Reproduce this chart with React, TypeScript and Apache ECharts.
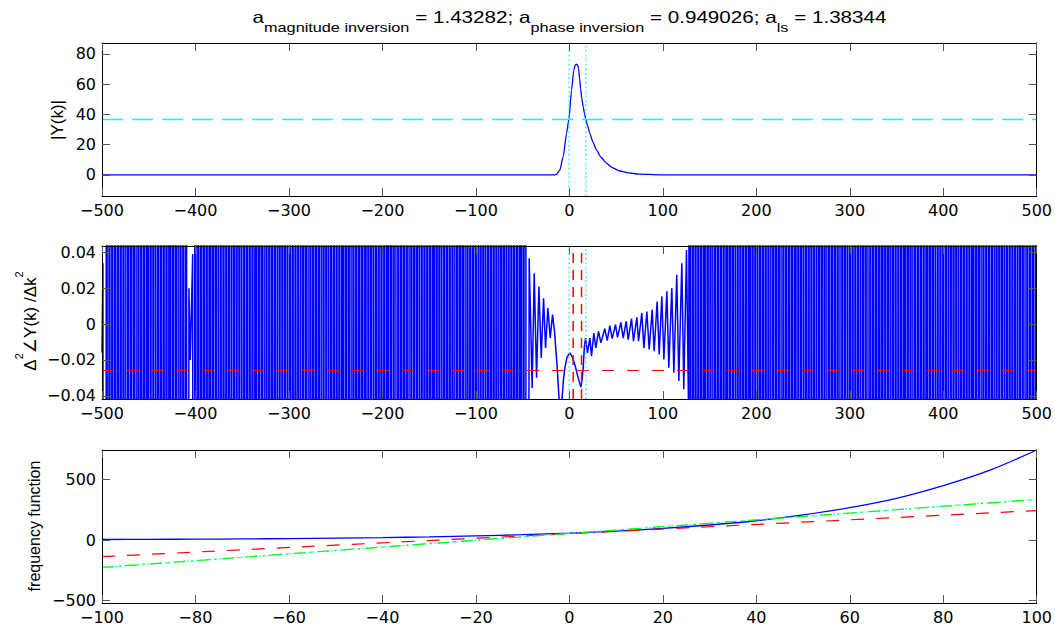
import React, { useEffect, useRef } from "react";
import * as echarts from "echarts";

// ---- |Y(k)| : vertices of the magnitude curve ----
const magK = [-500, -16, -13.7, -10.2, -6.6, -3, -0.5, 2.3, 4.8, 6.3, 7.7, 8.8, 9.8, 11, 12, 13.3, 14.8, 16.2, 17.6, 19.5, 21.9, 25, 29, 34, 39.8, 46, 54, 63, 75, 97, 500];
const magVal = [0, 0, 0.4, 3.3, 12, 27.5, 36.8, 56, 69.4, 72.6, 73.2, 72.4, 70.5, 63.5, 57, 50.5, 45, 40.5, 36.8, 32.3, 27.5, 22, 16.5, 11.5, 7.7, 4.8, 2.6, 1.3, 0.6, 0.1, 0];
const magHalf = 36.6;
const magHalfLeft = -0.3;
const magHalfRight = 17.6;
const magMin = -13.9;
const magMax = 87.1;

// ---- second difference of the phase ----
// U / D : sample far above / far below the plotted range
const phaseHigh = 1;
const phaseLow = -1;
const phaseEdge: [number, number][] = [[-500, -0.016], [-499, 0.034]];
const phaseLeftAStart = -498;
const phaseLeftA = [
  "DDDUDDUDDU", "DDUDDUDDUD", "DUDDUUDUUD", "UUDUUDDUDD", "UDDUDDUDUU",
  "DUUDUUDDUD", "DUDDUDDUDD", "UDUUDUUDUU", "DDUDDUDDUD",
].join("");
const phaseLeftAEnd = -412;
const phaseNotch: [number, number][] = [
  [-411, -1], [-410, 1], [-409, -1], [-408, -1], [-407, 0.02], [-405.5, -0.02],
  [-403, 0.039], [-401.5, -1], [-401, -1], [-400, 1], [-399, -1],
];
const phaseLeftBStart = -398;
const phaseLeftB = [
  "DUDDUDDUDD", "UDDUDUUDUU", "DUUDDUDDUD", "DUDDUDDUUD", "UUDUUDUUDD",
  "UDDUDDUDDU", "DDUDUUDUUD", "UUDDUDDUDD", "UDDUDDUUDU", "UDUUDUUDDU",
  "DDUDDUDDUD", "DUUDUUDUUD", "DUDDUDDUDD", "UDDUUDUUDU", "UDDUDDUDDU",
  "DDUDDUDUUD", "UUDUUDDUDD", "UDDUDDUDDU", "DUUDUUDUUD", "DUDDUDDUDD",
  "UDDUDUUDUU", "DUUDDUDDUD", "DUDDUDDUUD", "UUDUUDUUDD", "UDDUDDUDDU",
  "DDUDUUDUUD", "UUDDUDDUDD", "UDDUDDUUDU", "UDUUDUUDDU", "DDUDDUDDUD",
  "DUUDUUDUUD", "DUDDUDDUDD", "UDDUUDUUDU", "UDDUDDUDDU", "DDUDDUDUUD",
  "UUDUUDDUDD",
].join("");
const phaseLeftBEnd = -46;
const phaseCenter: [number, number][] = [
  [-43.0, 0.0367], [-39.8, -0.0356], [-37.6, 0.0283], [-35.1, -0.03], [-32.6, 0.0209],
  [-30.1, -0.0189], [-27.6, 0.0144], [-25.5, -0.0133], [-23.0, 0.0089], [-20.5, -0.0078],
  [-18.0, 0.0052], [-15.9, -0.0041], [-13.0, -0.0244], [-10.9, -0.0426], [-9.5, -0.05],
  [-8.0, -0.0426], [-6.3, -0.031], [-4.8, -0.0244], [-2.5, -0.0185], [0.5, -0.0161],
  [3.2, -0.0185], [5.9, -0.0226], [9.4, -0.03], [12.3, -0.0352], [13.6, -0.031],
  [14.8, -0.0244], [16.0, -0.013], [17.3, -0.0078], [19.4, -0.0161], [21.9, -0.0078],
  [23.7, -0.0179], [26.2, -0.005], [28.3, -0.0133], [31.2, -0.0041], [33.7, -0.0105],
  [37.9, -0.0026], [40.5, -0.0092], [43.3, -0.0009], [45.8, -0.0081], [49.4, -0.0003],
  [51.5, -0.0074], [55.1, 0.0009], [57.6, -0.0078], [60.8, 0.0015], [62.9, -0.0087],
  [66.5, 0.003], [68.6, -0.0096], [72.2, 0.0037], [74.0, -0.0096], [77.5, 0.0061],
  [79.7, -0.0133], [82.9, 0.007], [85.4, -0.0142], [88.6, 0.008], [90.7, -0.0152],
  [93.9, 0.0126], [96.1, -0.017], [98.9, 0.0154], [101.1, -0.0198], [104.3, 0.0182],
  [106.4, -0.0244], [109.6, 0.02], [111.8, -0.0272], [114.9, 0.0274], [117.1, -0.0318],
  [120.3, 0.0339], [122.4, -0.0364], [125.3, 0.0413], [127.8, -0.06],
];
const phaseRightStart = 129;
const phaseRight = [
  "UDDUDDUDDU", "DDUDDUDUUD", "UUDUUDDUDD", "UDDUDDUDDU", "DUUDUUDUUD",
  "DUDDUDDUDD", "UDDUDUUDUU", "DUUDDUDDUD", "DUDDUDDUUD", "UUDUUDUUDD",
  "UDDUDDUDDU", "DDUDUUDUUD", "UUDDUDDUDD", "UDDUDDUUDU", "UDUUDUUDDU",
  "DDUDDUDDUD", "DUUDUUDUUD", "DUDDUDDUDD", "UDDUUDUUDU", "UDDUDDUDDU",
  "DDUDDUDUUD", "UUDUUDDUDD", "UDDUDDUDDU", "DUUDUUDUUD", "DUDDUDDUDD",
  "UDDUDUUDUU", "DUUDDUDDUD", "DUDDUDDUUD", "UUDUUDUUDD", "UDDUDDUDDU",
  "DDUDUUDUUD", "UUDDUDDUDD", "UDDUDDUUDU", "UDUUDUUDDU", "DDUDDUDDUD",
  "DUUDUUDUUD", "DUDDUDDUDD", "UDDUUDUUDU",
].join("");
const phaseRightEnd = 500;
const phaseLevel = -0.0259;
const phaseMarkers = [4.1, 13.0];
const phaseMin = -0.0418;
const phaseMax = 0.0435;

// ---- frequency functions ----
const freqK = [-100, -90, -80, -70, -60, -50, -40, -30, -20, -10, 0, 10, 20, 30, 40, 50, 60, 70, 80, 90, 100];
const freqExact = [5, 6, 8, 10, 13, 17, 21, 27, 35, 45, 58, 75, 97, 125, 160, 208, 268, 345, 450, 578, 745];
const freqLinK = [-100, 100];
const freqLinA = [-137, 244];
const freqLinB = [-226, 336];
const freqMin = -520;
const freqMax = 745;

const magTicks = [0, 20, 40, 60, 80];
const phaseTicks = [-0.04, -0.02, 0, 0.02, 0.04];
const freqTicks = [-500, 0, 500];

function expand(pattern: string, start: number, end: number): [number, number][] {
  const out: [number, number][] = [];
  for (let i = 0; i < pattern.length; i++) {
    const k = start + i;
    if (k > end) break;
    out.push([k, pattern[i] === "U" ? phaseHigh : phaseLow]);
  }
  return out;
}

const zip = (xs: number[], ys: number[]) => xs.map((x, i) => [x, ys[i]]);

function buildOption(): any {
  const fmt = (v: number) => (v < 0 ? "\u2212" + String(-v) : String(v));
  const tickFont = { fontFamily: "DejaVu Sans", fontSize: 16, color: "#000" };
  const tickStyle = { show: true, inside: true, length: 8, lineStyle: { color: "#555", width: 1 } };
  const axisLine = { show: true, onZero: false, lineStyle: { color: "#000", width: 1 } };

  const grids = [43, 246, 450].map((top) => ({ left: 102, top, width: 935, height: 153 }));

  const xPair = (gridIndex: number, min: number, max: number, interval: number) => {
    const base = { type: "value", gridIndex, min, max, interval, z: 5, splitLine: { show: false }, axisLine, axisTick: tickStyle };
    return [
      { ...base, position: "bottom", axisLabel: { ...tickFont, margin: 6, formatter: fmt } },
      { ...base, position: "top", axisLabel: { show: false } },
    ];
  };
  const yPair = (gridIndex: number, min: number, max: number, ticks: number[]) => {
    const base = { type: "value", gridIndex, min, max, z: 5, splitLine: { show: false }, axisLine, axisTick: { ...tickStyle, customValues: ticks } };
    return [
      { ...base, position: "left", axisLabel: { ...tickFont, margin: 6, customValues: ticks, formatter: fmt } },
      { ...base, position: "right", axisLabel: { show: false } },
    ];
  };

  const ser = (xi: number, yi: number, data: any[], color: string, width: number, type: any, extra: any = {}) => ({
    type: "line", xAxisIndex: xi, yAxisIndex: yi, data, showSymbol: false, symbol: "none", clip: true, silent: true,
    lineStyle: { color, width, type }, emphasis: { disabled: true }, ...extra,
  });
  const vline = (xi: number, yi: number, k: number, lo: number, hi: number, color: string, width: number, type: any) =>
    ser(xi, yi, [[k, lo], [k, hi]], color, width, type);
  const hline = (xi: number, yi: number, v: number, lo: number, hi: number, color: string, width: number, type: any) =>
    ser(xi, yi, [[lo, v], [hi, v]], color, width, type);

  const phaseData = [
    ...phaseEdge,
    ...expand(phaseLeftA, phaseLeftAStart, phaseLeftAEnd),
    ...phaseNotch,
    ...expand(phaseLeftB, phaseLeftBStart, phaseLeftBEnd),
    ...phaseCenter,
    ...expand(phaseRight, phaseRightStart, phaseRightEnd),
  ];

  const blue = "#0000ff";
  const cyan = "#00ffff";
  const red = "#ff0000";
  const green = "#00ff00";
  const dotted = [1.5, 3];

  const title =
    "{m|a}{s|magnitude inversion}{m| = 1.43282; a}{s|phase inversion}{m| = 0.949026; a}{s|ls}{m| = 1.38344}";

  return {
    animation: false,
    backgroundColor: "#fff",
    grid: grids,
    xAxis: [...xPair(0, -500, 500, 100), ...xPair(1, -500, 500, 100), ...xPair(2, -100, 100, 20)],
    yAxis: [...yPair(0, magMin, magMax, magTicks), ...yPair(1, phaseMin, phaseMax, phaseTicks), ...yPair(2, freqMin, freqMax, freqTicks)],
    series: [
      ser(0, 0, zip(magK, magVal), blue, 1.3, "solid", { smooth: 0.2, smoothMonotone: "x" }),
      hline(0, 0, magHalf, -500, 500, cyan, 1.3, [21, 9]),
      vline(0, 0, magHalfLeft, magMin, magMax, cyan, 1.3, dotted),
      vline(0, 0, magHalfRight, magMin, magMax, cyan, 1.3, dotted),

      ser(2, 2, phaseData, blue, 1.5, "solid"),
      hline(2, 2, phaseLevel, -500, 500, red, 1.2, [12, 13]),
      vline(2, 2, phaseMarkers[0], phaseMin, phaseMax, red, 1.5, [10, 7]),
      vline(2, 2, phaseMarkers[1], phaseMin, phaseMax, red, 1.5, [10, 7]),
      vline(2, 2, magHalfLeft, phaseMin, phaseMax, cyan, 1.3, dotted),
      vline(2, 2, magHalfRight, phaseMin, phaseMax, cyan, 1.3, dotted),

      ser(4, 4, zip(freqK, freqExact), blue, 1.3, "solid", { smooth: 0.3 }),
      ser(4, 4, zip(freqLinK, freqLinA), red, 1.2, [13, 12]),
      ser(4, 4, zip(freqLinK, freqLinB), cyan, 1.3, dotted),
      ser(4, 4, zip(freqLinK, freqLinB), green, 1.2, [12, 5, 2, 5]),
    ],
    graphic: [
      {
        type: "text", x: 569.5, y: 9, scaleX: 1.25, silent: true,
        style: {
          text: title, align: "center", verticalAlign: "top", fill: "#000",
          fontFamily: "Liberation Sans", fontSize: 16.5,
          rich: {
            m: { fontFamily: "Liberation Sans", fontSize: 16.5, fill: "#000", verticalAlign: "top", padding: [0, 0, 0, 0] },
            s: { fontFamily: "Liberation Sans", fontSize: 13, fill: "#000", verticalAlign: "top", padding: [12, 0, 0, 0] },
          },
        },
      },
      {
        type: "text", x: 57, y: 120, rotation: Math.PI / 2, silent: true,
        style: { text: "|Y(k)|", align: "center", verticalAlign: "middle", fill: "#000", fontFamily: "Liberation Sans", fontSize: 17 },
      },
      {
        type: "text", x: 26, y: 321, rotation: Math.PI / 2, silent: true,
        style: {
          text: "{m|\u0394}{s|2}{m|\u2220Y(k) /\u0394k}{s|2}", align: "center", verticalAlign: "middle", fill: "#000",
          fontFamily: "Liberation Sans", fontSize: 17,
          rich: {
            m: { fontFamily: "Liberation Sans, DejaVu Sans", fontSize: 17, fill: "#000", verticalAlign: "top", padding: [9, 0, 0, 0] },
            s: { fontFamily: "Liberation Sans", fontSize: 11, fill: "#000", verticalAlign: "top", padding: [0, 0, 0, 0] },
          },
        },
      },
      {
        type: "text", x: 34.5, y: 526, rotation: Math.PI / 2, silent: true,
        style: { text: "frequency function", align: "center", verticalAlign: "middle", fill: "#000", fontFamily: "Liberation Sans", fontSize: 16 },
      },
    ],
  };
}

export default function App() {
  const ref = useRef<HTMLDivElement>(null);
  useEffect(() => {
    if (!ref.current) return;
    const chart = echarts.init(ref.current, null, { renderer: "svg" });
    chart.setOption(buildOption());
    return () => chart.dispose();
  }, []);
  return (
    <div
      ref={ref}
      style={{ position: "absolute", left: 0, top: 0, width: 1055, height: 627, background: "#fff" }}
    />
  );
}
